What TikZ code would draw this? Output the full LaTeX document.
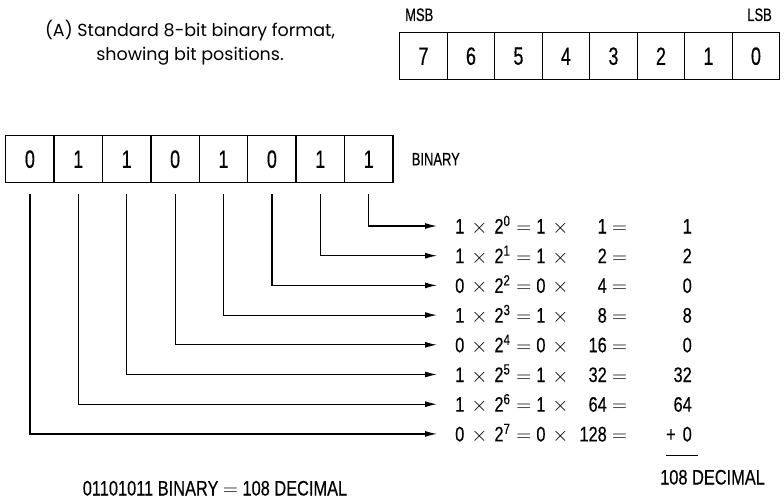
\documentclass[tikz,border=0pt]{standalone}
\usepackage{fontspec}
\setmainfont{Liberation Sans}
\newfontfamily\condfont[FakeStretch=0.72,FakeBold=0.4]{Liberation Sans}
\newfontfamily\eqfont[FakeStretch=0.78,FakeBold=0.3]{Liberation Sans}
\newfontfamily\captfont{Poppins}
\usetikzlibrary{arrows.meta,positioning}

\begin{document}
\begin{tikzpicture}[x=1pt,y=-1pt,
    cell/.style={draw, line width=1.4pt, minimum height=47pt, inner sep=0pt, font=\condfont\fontsize{25}{25}\selectfont},
    lbl/.style={inner sep=0pt, font=\condfont\fontsize{18}{18}\selectfont},
    eqn/.style={inner sep=0pt, text height=15pt, text depth=0pt, font=\eqfont\fontsize{21}{21}\selectfont},
    feed/.style={line width=1.2pt, -{Latex[length=12pt,width=6pt]}}]
  \useasboundingbox (0,0) rectangle (784,503);

  % (A) format with bit positions
  \node[align=center, font=\captfont\fontsize{17.5}{24}\selectfont] (capt) at (190,43) {(A) Standard 8-bit binary format,\\showing bit positions.};
  \foreach \b [count=\j from 0] in {7,...,0}
    \node[cell, minimum width=47.5pt, anchor=north west] (p\b) at (399+47.5*\j,32) {\b};
  \node[lbl, anchor=base west] (msb) at (405,21) {MSB};
  \node[lbl, anchor=base east] (lsb) at (772,21) {LSB};

  % the byte 01101011
  \foreach \v [count=\j from 0] in {0,1,1,0,1,0,1,1} {
    \pgfmathtruncatemacro\b{8-\j}
    \node[cell, minimum width=48.4pt, anchor=north west] (d\b) at (5+48.4*\j,135) {\v};
  }
  \node[lbl, right=18pt of d1] (bin) {BINARY};

  % weights
  \foreach \v/\w/\s [count=\i from 1] in {1/1/1,1/2/2,0/4/0,1/8/8,0/16/0,1/32/32,1/64/64,0/128/{+\hspace{7pt}0}} {
    \pgfmathtruncatemacro\k{\i-1}
    \node[eqn, anchor=west] (e\i) at (455,196.3+29.7*\i) {\v\hspace{7pt}$\times$\hspace{7pt}2\textsuperscript{\k}\hspace{6pt}$=$\hspace{5pt}\v\hspace{7pt}$\times$};
    \node[eqn, anchor=east] (m\i) at (607,196.3+29.7*\i) {\w};
    \node[eqn, anchor=west] (q\i) at (612,196.3+29.7*\i) {$=$};
    \node[eqn, anchor=east] (s\i) at (692,196.3+29.7*\i) {\s};
    \draw[feed] ([yshift=-11pt]d\i.south) |- ([xshift=-18pt]e\i.west);
  }
  \draw[line width=1pt] ([yshift=-14pt]s8.south west) -- ([xshift=6pt,yshift=-14pt]s8.south east);
  \node[eqn, anchor=west] (tot) at (660,477) {108 DECIMAL};

  \node[eqn] (sum) at (215,488) {01101011 BINARY $=$ 108 DECIMAL};
\end{tikzpicture}
\end{document}
